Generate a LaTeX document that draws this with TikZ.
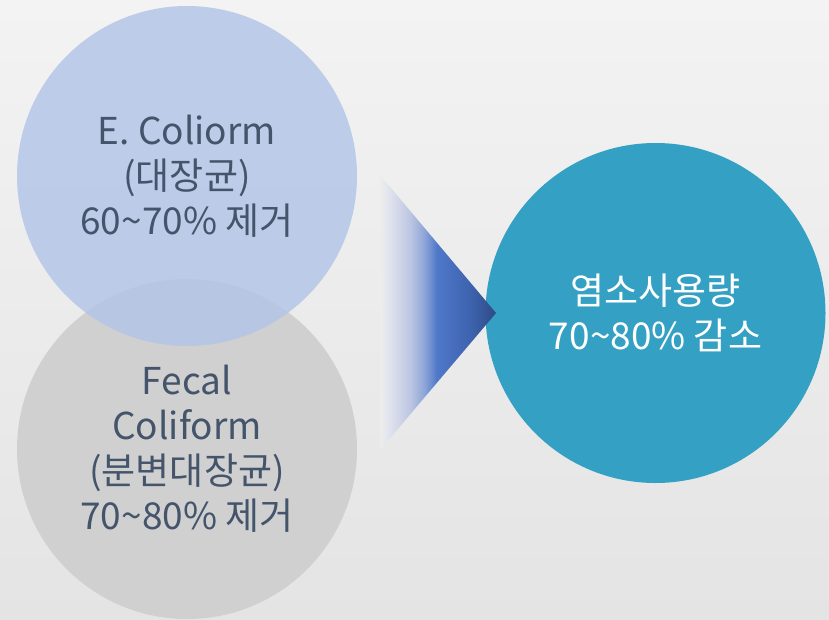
\documentclass[tikz,border=0pt]{standalone}
\usepackage{fontspec}
\setmainfont{Noto Sans CJK KR}
\definecolor{bgtop}{HTML}{F3F3F3}
\definecolor{bgbot}{HTML}{E4E4E4}
\definecolor{topc}{HTML}{B3C5E7}
\definecolor{grayc}{HTML}{D0D0D0}
\definecolor{tealc}{HTML}{33A0C4}
\definecolor{txtc}{HTML}{44546A}
\definecolor{ga}{HTML}{EDEDED}
\definecolor{gb}{HTML}{E0E3EE}
\definecolor{gc}{HTML}{BCC6E2}
\definecolor{gd}{HTML}{8FA6D8}
\definecolor{ge}{HTML}{4F78C9}
\definecolor{gf}{HTML}{3D63AE}
\definecolor{gg}{HTML}{2F4A85}
\pgfdeclarehorizontalshading{arrowshade}{100bp}{color(0bp)=(ga); color(25bp)=(ga); color(29bp)=(gb); color(38bp)=(gc); color(44bp)=(gd); color(49.6bp)=(ge); color(64bp)=(gf); color(75bp)=(gg); color(100bp)=(gg)}
\tikzset{
  bubble/.style={circle, minimum size=340pt, inner sep=0pt, align=center,
    font=\fontsize{37pt}{45pt}\selectfont},
  darktext/.style={text=txtc},
}
\begin{document}
\begin{tikzpicture}[x=1pt,y=-1pt]
\shade[top color=bgtop, bottom color=bgbot] (0,0) rectangle (829,620);
\useasboundingbox (0,0) rectangle (829,620);
\node[bubble, darktext, fill=grayc] (fecal) at (187,449)
  {Fecal\\Coliform\\(분변대장균)\\70\textasciitilde80\% 제거};
\node[bubble, darktext, fill=topc, fill opacity=0.83, text opacity=1] (ecoli) at (187,176)
  {E. Coliorm\\(대장균)\\60\textasciitilde70\% 제거};
\node[bubble, text=white, fill=tealc] (chlor) at (655.5,313)
  {염소사용량\\70\textasciitilde80\% 감소};
\coordinate (ta) at (380,175);
\coordinate (tb) at (496,313);
\coordinate (tc) at (380,450);
\path[shading=arrowshade] (ta) -- (tb) -- (tc) -- cycle;
\end{tikzpicture}
\end{document}
